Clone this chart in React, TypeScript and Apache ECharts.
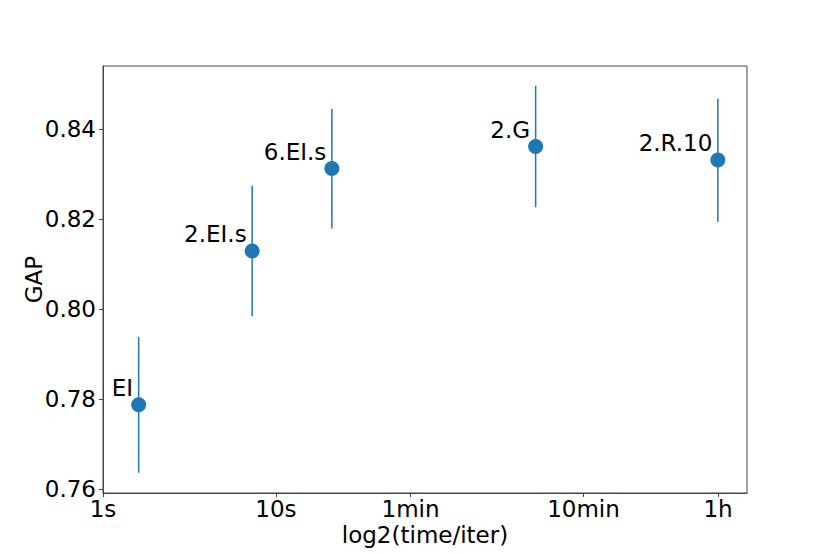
import React, { useEffect, useRef } from "react";
import * as echarts from "echarts";

const methods = ["EI", "2.EI.s", "6.EI.s", "2.G", "2.R.10"];
const xLog2Time = [0.685, 2.865, 4.396, 8.31, 11.81];
const gapMean = [0.7787, 0.8129, 0.8312, 0.8361, 0.8331];
const gapErr = [0.0151, 0.0145, 0.0133, 0.0135, 0.0137];
const tickSeconds = [1, 10, 60, 600, 3600];
const tickLabels = ["1s", "10s", "1min", "10min", "1h"];
const yTicks = [0.76, 0.78, 0.8, 0.82, 0.84];

const BLUE = "#1f77b4";
const FONT = "DejaVu Sans";
const FS = 23;

export default function App() {
  const ref = useRef<HTMLDivElement>(null);
  useEffect(() => {
    if (!ref.current) return;
    const chart = echarts.init(ref.current, null, { renderer: "svg" });
    const tickPos = tickSeconds.map((s) => Math.log2(s));
    const labelFor = (v: number) => {
      for (let i = 0; i < tickPos.length; i++) {
        if (Math.abs(tickPos[i] - v) < 1e-6) return tickLabels[i];
      }
      return "";
    };
    const points = methods.map((m, i) => ({ name: m, value: [xLog2Time[i], gapMean[i]] }));
    const bars = methods.map((m, i) => [xLog2Time[i], gapMean[i] - gapErr[i], gapMean[i] + gapErr[i]]);
    chart.setOption({
      animation: false,
      backgroundColor: "#fff",
      textStyle: { fontFamily: FONT },
      grid: {
        left: 103,
        right: 83,
        top: 66,
        bottom: 61,
        show: true,
        borderColor: "#444",
        borderWidth: 1,
        backgroundColor: "transparent",
      },
      xAxis: {
        type: "value",
        min: 0,
        max: 12.37,
        name: "log2(time/iter)",
        nameLocation: "middle",
        nameGap: 30,
        nameMoveOverlap: false,
        nameTextStyle: { fontSize: FS, color: "#000", fontFamily: FONT },
        axisLine: { show: true, lineStyle: { color: "#444", width: 1 } },
        axisTick: { show: true, length: 4, lineStyle: { color: "#444" }, customValues: tickPos },
        axisLabel: {
          customValues: tickPos,
          formatter: (v: number) => labelFor(v),
          fontSize: FS,
          color: "#000",
          margin: 4,
          fontFamily: FONT,
        },
        splitLine: { show: false },
      },
      yAxis: {
        type: "value",
        min: 0.7591,
        max: 0.854,
        name: "GAP",
        nameLocation: "middle",
        nameGap: 58,
        nameMoveOverlap: false,
        nameRotate: 90,
        nameTextStyle: { fontSize: FS, color: "#000", fontFamily: FONT },
        axisLine: { show: true, lineStyle: { color: "#444", width: 1 } },
        axisTick: { show: true, length: 4, lineStyle: { color: "#444" }, customValues: yTicks },
        axisLabel: {
          customValues: yTicks,
          formatter: (v: number) => v.toFixed(2),
          fontSize: FS,
          color: "#000",
          margin: 7,
          fontFamily: FONT,
        },
        splitLine: { show: false },
      },
      series: [
        {
          type: "custom",
          data: bars,
          renderItem: (params: any, api: any) => {
            const x = api.value(0);
            const p1 = api.coord([x, api.value(1)]);
            const p2 = api.coord([x, api.value(2)]);
            return {
              type: "line",
              shape: { x1: p1[0], y1: p1[1], x2: p2[0], y2: p2[1] },
              style: { stroke: BLUE, lineWidth: 1.5 },
            };
          },
          encode: { x: 0, y: [1, 2] },
          z: 2,
        },
        {
          type: "scatter",
          data: points,
          symbol: "circle",
          symbolSize: 15,
          itemStyle: { color: BLUE, opacity: 1 },
          label: {
            show: true,
            position: "left",
            distance: 0,
            offset: [2, -17],
            formatter: (p: any) => p.name,
            fontSize: FS,
            color: "#000",
            fontFamily: FONT,
          },
          z: 3,
        },
      ],
    });
    return () => chart.dispose();
  }, []);
  return (
    <div
      ref={ref}
      style={{ position: "fixed", left: 0, top: 0, width: 830, height: 554, background: "#fff" }}
    />
  );
}
